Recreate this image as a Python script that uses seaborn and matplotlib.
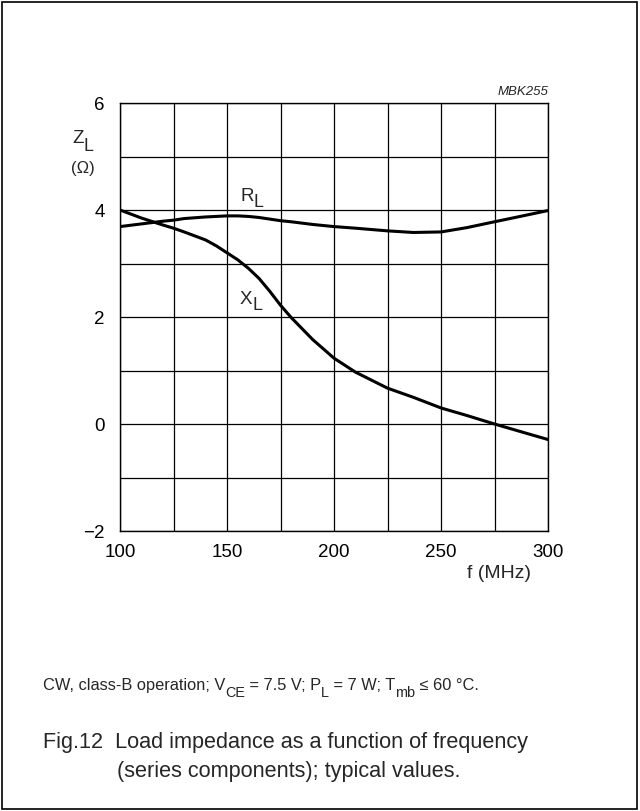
import numpy as np
import pandas as pd
import matplotlib
matplotlib.use("Agg")
import matplotlib.pyplot as plt
import seaborn as sns
from matplotlib.patches import Rectangle

# data (f in MHz, impedance in ohm)
freq = [100, 110, 120, 125, 130, 140, 145, 150, 155, 160, 165, 170, 175,
        180, 190, 200, 210, 225, 237, 250, 262, 275, 287, 300]
r_load = [3.69, 3.74, 3.79, 3.81, 3.84, 3.87, 3.88, 3.89, 3.89, 3.88, 3.86,
          3.83, 3.80, 3.78, 3.73, 3.69, 3.66, 3.61, 3.58, 3.59, 3.67, 3.78,
          3.88, 3.99]
x_load = [4.00, 3.85, 3.72, 3.66, 3.59, 3.44, 3.33, 3.20, 3.07, 2.91, 2.72,
          2.48, 2.22, 1.99, 1.58, 1.23, 0.97, 0.67, 0.50, 0.30, 0.16, 0.00,
          -0.14, -0.29]
x_ticks = [100, 150, 200, 250, 300]
y_ticks = [-2, 0, 2, 4, 6]
y_tick_labels = ["\u22122", "0", "2", "4", "6"]

df = pd.DataFrame({"f": freq * 2,
                   "Z": r_load + x_load,
                   "comp": ["R"] * len(freq) + ["X"] * len(freq)})

sns.set_style("white")
plt.rcParams["font.family"] = ["Liberation Sans", "DejaVu Sans"]

W, H = 640, 812
fig = plt.figure(figsize=(W / 100, H / 100), dpi=100)
ax = fig.add_axes([120 / W, 1 - 532 / H, 428 / W, 428 / H])

sns.lineplot(data=df, x="f", y="Z", units="comp", estimator=None,
             color="black", lw=2.2, ax=ax, legend=False)

ax.set_xlim(100, 300)
ax.set_ylim(-2, 6)
ax.set_xticks(x_ticks)
ax.set_xticks(np.arange(100, 301, 25), minor=True)
ax.set_yticks(y_ticks)
ax.set_yticklabels(y_tick_labels)
ax.set_yticks(np.arange(-2, 7, 1), minor=True)
ax.grid(True, which="both", color="black", lw=0.9)
ax.tick_params(which="both", length=0, labelsize=13.5, colors="black")
ax.tick_params(axis="x", pad=9)
ax.tick_params(axis="y", pad=11)
for s in ax.spines.values():
    s.set_color("black")
    s.set_linewidth(1.0)
ax.set_xlabel("")
ax.set_ylabel("")

renderer = fig.canvas.get_renderer()


# text with subscripts, placed in figure pixels (x left, y = baseline from top)
def sub_text(x, y, parts, size, sub_scale=0.85, drop=0.45):
    for txt, is_sub in parts:
        fs = size * sub_scale if is_sub else size
        yy = y + (drop * size * 100 / 72 if is_sub else 0)
        t = fig.text(x / W, 1 - yy / H, txt, fontsize=fs,
                     ha="left", va="baseline")
        x += t.get_window_extent(renderer).width


sub_text(240, 201, [("R", False), ("L", True)], 13.5, 0.95, 0.33)
sub_text(240, 304, [("X", False), ("L", True)], 13.5, 0.95, 0.33)
sub_text(72, 143, [("Z", False), ("L", True)], 13.5, 0.95, 0.42)
fig.text(83 / W, 1 - 168 / H, "(\u03a9)", fontsize=12, ha="center", va="center")
fig.text(499 / W, 1 - 574 / H, "f (MHz)", fontsize=14, ha="center", va="center")
fig.text(548 / W, 1 - 92 / H, "MBK255", fontsize=9.5, style="italic",
         ha="right", va="center")

sub_text(43, 690, [("CW, class-B operation; V", False), ("CE", True),
                   (" = 7.5 V; P", False), ("L", True),
                   (" = 7 W; T", False), ("mb", True),
                   (" \u2264 60 \u00b0C.", False)], 11.8, 0.88, 0.42)
fig.text(43 / W, 1 - 743 / H,
         "Fig.12  Load impedance as a function of frequency",
         fontsize=15.6, ha="left", va="center")
fig.text(117 / W, 1 - 772 / H,
         "(series components); typical values.",
         fontsize=15.6, ha="left", va="center")

fig.patches.append(Rectangle((2 / W, 2 / H), 635 / W, 807 / H,
                             transform=fig.transFigure, fill=False,
                             edgecolor="black", lw=1.2))

fig.savefig("out.png", dpi=100)
